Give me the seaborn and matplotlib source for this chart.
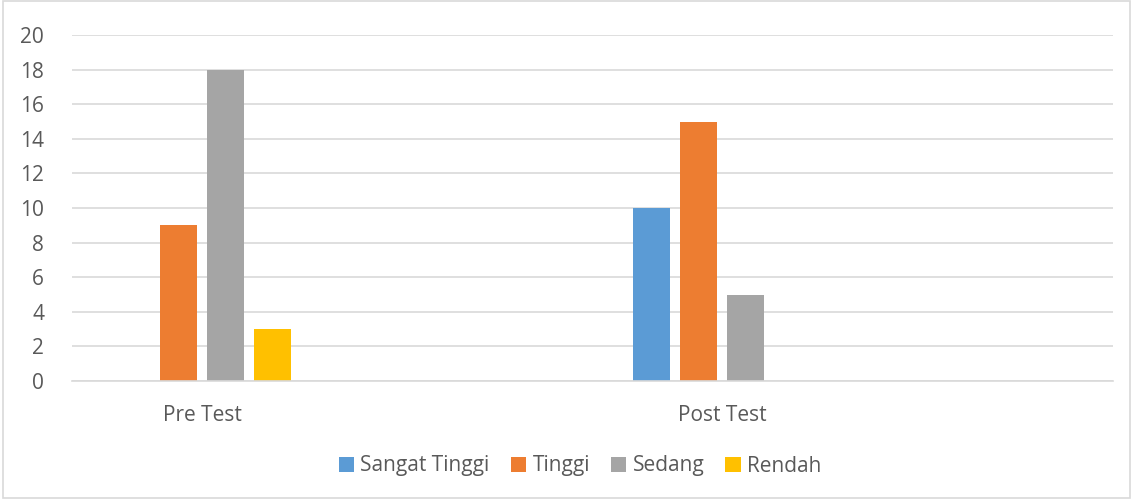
import matplotlib
matplotlib.use("Agg")
import matplotlib.pyplot as plt
import pandas as pd
import seaborn as sns

# ─── data ─────────────────────────────────────────────────────────────────────
categories = ["Pre Test", "Post Test"]
levels     = ["Sangat Tinggi", "Tinggi", "Sedang", "Rendah"]
pre_test   = [0, 9, 18, 3]
post_test  = [10, 15, 5, 0]
colors     = ["#5B9BD5", "#ED7D31", "#A5A5A5", "#FFC000"]
yticks     = list(range(0, 21, 2))

rows = []
for cat, vals in zip(categories, [pre_test, post_test]):
    for lvl, v in zip(levels, vals):
        rows.append({"kategori": cat, "level": lvl, "nilai": v})
df = pd.DataFrame(rows)

# ─── plot ─────────────────────────────────────────────────────────────────────
sns.set_style("white")
plt.rcParams["font.family"] = ["Open Sans", "DejaVu Sans"]
TXT = "#595959"
FS  = 15

fig = plt.figure(figsize=(11.33, 4.99), dpi=100)
ax = fig.add_axes([72 / 1133, 1 - 381 / 499, (1113 - 72) / 1133, (381 - 35) / 499])

sns.barplot(
    data=df, x="kategori", y="nilai", hue="level",
    order=categories, hue_order=levels, palette=colors,
    width=0.362, gap=0.21, saturation=1, linewidth=0, ax=ax, legend=True,
)

ax.set_xlim(-0.25, 1.752)
ax.set_ylim(0, 20)
ax.set_yticks(yticks)
ax.yaxis.grid(True, color="#D9D9D9", linewidth=1.2)
ax.set_axisbelow(True)
for s in ["top", "right", "left"]:
    ax.spines[s].set_visible(False)
ax.spines["bottom"].set_color("#D9D9D9")
ax.spines["bottom"].set_linewidth(1.2)
ax.tick_params(axis="both", length=0, labelsize=FS, colors=TXT)
ax.tick_params(axis="x", pad=17)
ax.tick_params(axis="y", pad=20)
ax.set_xlabel("")
ax.set_ylabel("")

handles, labels = ax.get_legend_handles_labels()
ax.legend_.remove()
fig.legend(handles, labels, loc="center", bbox_to_anchor=(580 / 1133, 1 - 466 / 499),
           ncol=4, frameon=False, fontsize=FS, labelcolor=TXT,
           handlelength=0.75, handleheight=0.75, handletextpad=0.3, columnspacing=1.0)

# chart border
fig.patches.append(plt.Rectangle((0.003, 0.003), 0.994, 0.994, transform=fig.transFigure,
                                 fill=False, edgecolor="#D9D9D9", linewidth=1.2))

fig.savefig("out.png", dpi=100)
plt.close(fig)
